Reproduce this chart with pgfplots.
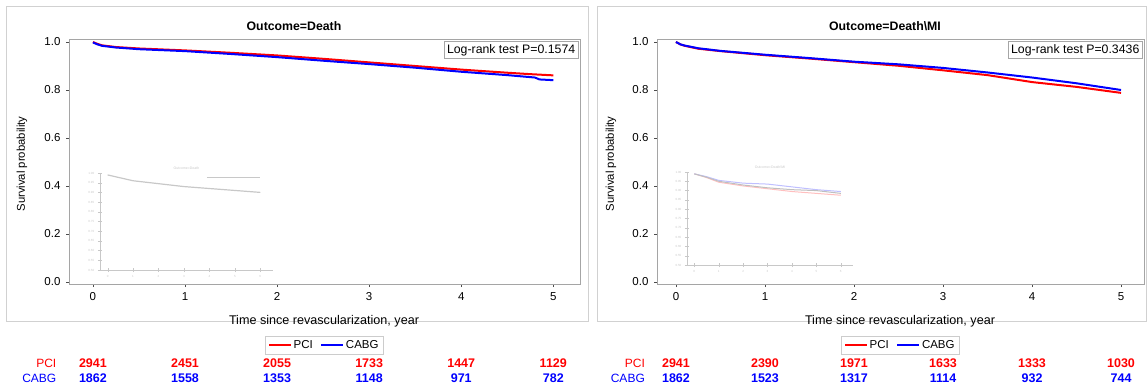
\documentclass[border=0pt]{standalone}
\usepackage{pgfplots}
\pgfplotsset{compat=1.18}
\usepackage{fontspec}
\setmainfont{Liberation Sans}
\definecolor{kmred}{RGB}{255,0,0}
\definecolor{kmblue}{RGB}{0,0,255}
\definecolor{framegray}{RGB}{165,165,165}
\definecolor{ghost}{RGB}{200,200,200}

\pgfplotsset{
  kmaxis/.style={
    scale only axis, height=245pt,
    ymin=-0.0083, ymax=1.0125,
    ytick={0,0.2,0.4,0.6,0.8,1.0}, xtick={0,1,2,3,4,5},
    axis line style={framegray}, tick style={black!70},
    tick align=outside, major tick length=3pt,
    xtick pos=bottom, ytick pos=left,
    clip=false,
    ticklabel style={font=\fontsize{11.5}{13}\selectfont},
    /pgf/number format/assume math mode=true,
    yticklabel style={/pgf/number format/fixed, /pgf/number format/fixed zerofill, /pgf/number format/precision=1, xshift=-2pt},
    xticklabel style={yshift=-2pt},
    legend style={at={(0.5,-0.249)}, anchor=center, legend columns=2,
      draw=black!20, font=\fontsize{11.5}{13}\selectfont,
      /tikz/every even column/.append style={column sep=6pt}},
    legend image code/.code={\draw[#1, line width=1.2pt] (0pt,0pt) -- (22pt,0pt);},
  },
  ghostaxis/.style={
    anchor=south west, scale only axis,
    axis lines=left, axis line style={ghost, -}, tick style={ghost},
    ticklabel style={font=\fontsize{3}{3}\selectfont, text=ghost},
    ymin=0.5, ymax=1.0, ytick={0.5,0.55,0.6,0.65,0.7,0.75,0.8,0.85,0.9,0.95,1.0},
    xtick={0,1,2,3,4,5,6}, xmin=-0.3, xmax=6.5,
    /pgf/number format/assume math mode=true,
    yticklabel style={/pgf/number format/fixed, /pgf/number format/fixed zerofill, /pgf/number format/precision=2},
    clip=false,
  },
}

\begin{document}
\begin{tikzpicture}
\path[use as bounding box] (0pt,0pt) rectangle (1148pt,388pt);

% panel frames
\draw[black!18, line width=1pt] (6pt,66pt) rectangle (588pt,381pt);
\draw[black!18, line width=1pt] (597pt,66pt) rectangle (1146pt,381pt);

% ghost insets (bleed-through)
\begin{axis}[ghostaxis, at={(100pt,118pt)}, width=173pt, height=97pt]
\addplot[ghost, line width=1.2pt] coordinates {(0,0.99) (0.5,0.975) (1,0.96) (2,0.945) (3,0.93) (4,0.92) (5,0.91) (6,0.90)};
\addplot[ghost, line width=0.8pt] coordinates {(3.9,0.975) (6.0,0.975)};
\node[font=\fontsize{3.5}{4}\selectfont, text=ghost] at (rel axis cs:0.5,1.05) {Outcome=Death};
\end{axis}
\begin{axis}[ghostaxis, at={(687pt,123pt)}, width=166pt, height=93pt]
\addplot[red!25, line width=1pt] coordinates {(0,0.99) (0.5,0.97) (1,0.945) (2,0.925) (3,0.91) (4,0.895) (5,0.885) (6,0.875)};
\addplot[blue!25, line width=1pt] coordinates {(0,0.99) (0.5,0.975) (1,0.955) (2,0.94) (3,0.935) (4,0.92) (5,0.905) (6,0.895)};
\addplot[black!25, line width=1pt] coordinates {(0,0.99) (0.5,0.972) (1,0.95) (2,0.93) (3,0.915) (4,0.905) (5,0.9) (6,0.885)};
\node[font=\fontsize{3.5}{4}\selectfont, text=ghost] at (rel axis cs:0.5,1.05) {Outcome=Death\textbackslash MI};
\end{axis}

% ---------------- left panel ----------------
\begin{axis}[kmaxis, at={(69pt,104pt)}, anchor=south west, width=511pt,
  xmin=-0.26, xmax=5.29]
\addplot[kmred, line width=2pt] coordinates {
(0,1.0) (0.05,0.992) (0.1,0.986) (0.25,0.979) (0.5,0.973) (1,0.965) (1.5,0.955)
(2,0.944) (2.5,0.93) (3,0.915) (3.5,0.90) (4,0.885) (4.5,0.872) (4.75,0.866) (5,0.861)};
\addlegendentry{PCI}
\addplot[kmblue, line width=2pt] coordinates {
(0,0.998) (0.05,0.99) (0.1,0.984) (0.25,0.977) (0.5,0.970) (1,0.962) (1.5,0.950)
(2,0.937) (2.5,0.922) (3,0.908) (3.5,0.893) (4,0.876) (4.5,0.862) (4.8,0.852) (4.85,0.844) (5,0.841)};
\addlegendentry{CABG}
\node[anchor=north east, draw=black!35, fill=white, inner sep=2.5pt,
  font=\fontsize{12.3}{14}\selectfont] at (rel axis cs:0.996,0.99) {Log-rank test P=0.1574};
% number at risk
\node[anchor=east, kmred, font=\fontsize{12}{14}\selectfont] at (axis cs:-0.36,-0.3375) {PCI};
\node[anchor=east, kmblue, font=\fontsize{12}{14}\selectfont] at (axis cs:-0.36,-0.4) {CABG};
\begin{scope}[font=\fontsize{12.5}{14}\bfseries\selectfont]
\node[kmred] at (axis cs:0,-0.3375) {2941};
\node[kmred] at (axis cs:1,-0.3375) {2451};
\node[kmred] at (axis cs:2,-0.3375) {2055};
\node[kmred] at (axis cs:3,-0.3375) {1733};
\node[kmred] at (axis cs:4,-0.3375) {1447};
\node[kmred] at (axis cs:5,-0.3375) {1129};
\node[kmblue] at (axis cs:0,-0.4) {1862};
\node[kmblue] at (axis cs:1,-0.4) {1558};
\node[kmblue] at (axis cs:2,-0.4) {1353};
\node[kmblue] at (axis cs:3,-0.4) {1148};
\node[kmblue] at (axis cs:4,-0.4) {971};
\node[kmblue] at (axis cs:5,-0.4) {782};
\end{scope}
\end{axis}

% ---------------- right panel ----------------
\begin{axis}[kmaxis, at={(657pt,104pt)}, anchor=south west, width=487pt,
  xmin=-0.213, xmax=5.258]
\addplot[kmred, line width=2pt] coordinates {
(0,1.0) (0.05,0.99) (0.1,0.984) (0.25,0.972) (0.5,0.962) (1,0.945) (1.5,0.931)
(2,0.916) (2.5,0.901) (3,0.882) (3.5,0.862) (4,0.833) (4.5,0.813) (5,0.788)};
\addlegendentry{PCI}
\addplot[kmblue, line width=2pt] coordinates {
(0,1.0) (0.05,0.99) (0.1,0.985) (0.25,0.974) (0.5,0.963) (1,0.947) (1.5,0.933)
(2,0.918) (2.5,0.907) (3,0.892) (3.5,0.873) (4,0.852) (4.5,0.828) (5,0.80)};
\addlegendentry{CABG}
\node[anchor=north east, draw=black!35, fill=white, inner sep=2.5pt,
  font=\fontsize{12.3}{14}\selectfont] at (rel axis cs:0.996,0.99) {Log-rank test P=0.3436};
\node[anchor=east, kmred, font=\fontsize{12}{14}\selectfont] at (axis cs:-0.31,-0.3375) {PCI};
\node[anchor=east, kmblue, font=\fontsize{12}{14}\selectfont] at (axis cs:-0.31,-0.4) {CABG};
\begin{scope}[font=\fontsize{12.5}{14}\bfseries\selectfont]
\node[kmred] at (axis cs:0,-0.3375) {2941};
\node[kmred] at (axis cs:1,-0.3375) {2390};
\node[kmred] at (axis cs:2,-0.3375) {1971};
\node[kmred] at (axis cs:3,-0.3375) {1633};
\node[kmred] at (axis cs:4,-0.3375) {1333};
\node[kmred] at (axis cs:5,-0.3375) {1030};
\node[kmblue] at (axis cs:0,-0.4) {1862};
\node[kmblue] at (axis cs:1,-0.4) {1523};
\node[kmblue] at (axis cs:2,-0.4) {1317};
\node[kmblue] at (axis cs:3,-0.4) {1114};
\node[kmblue] at (axis cs:4,-0.4) {932};
\node[kmblue] at (axis cs:5,-0.4) {744};
\end{scope}
\end{axis}

% titles and axis labels
\node[font=\fontsize{12.3}{14}\bfseries\selectfont] at (294pt,362pt) {Outcome=Death};
\node[font=\fontsize{12.3}{14}\bfseries\selectfont] at (885pt,362pt) {Outcome=Death\textbackslash MI};
\node[rotate=90, font=\fontsize{11.3}{13}\selectfont] at (22pt,224pt) {Survival probability};
\node[rotate=90, font=\fontsize{11.3}{13}\selectfont] at (611pt,224pt) {Survival probability};
\node[font=\fontsize{12.6}{14}\selectfont] at (324pt,67pt) {Time since revascularization, year};
\node[font=\fontsize{12.6}{14}\selectfont] at (900pt,67pt) {Time since revascularization, year};
\end{tikzpicture}
\end{document}
